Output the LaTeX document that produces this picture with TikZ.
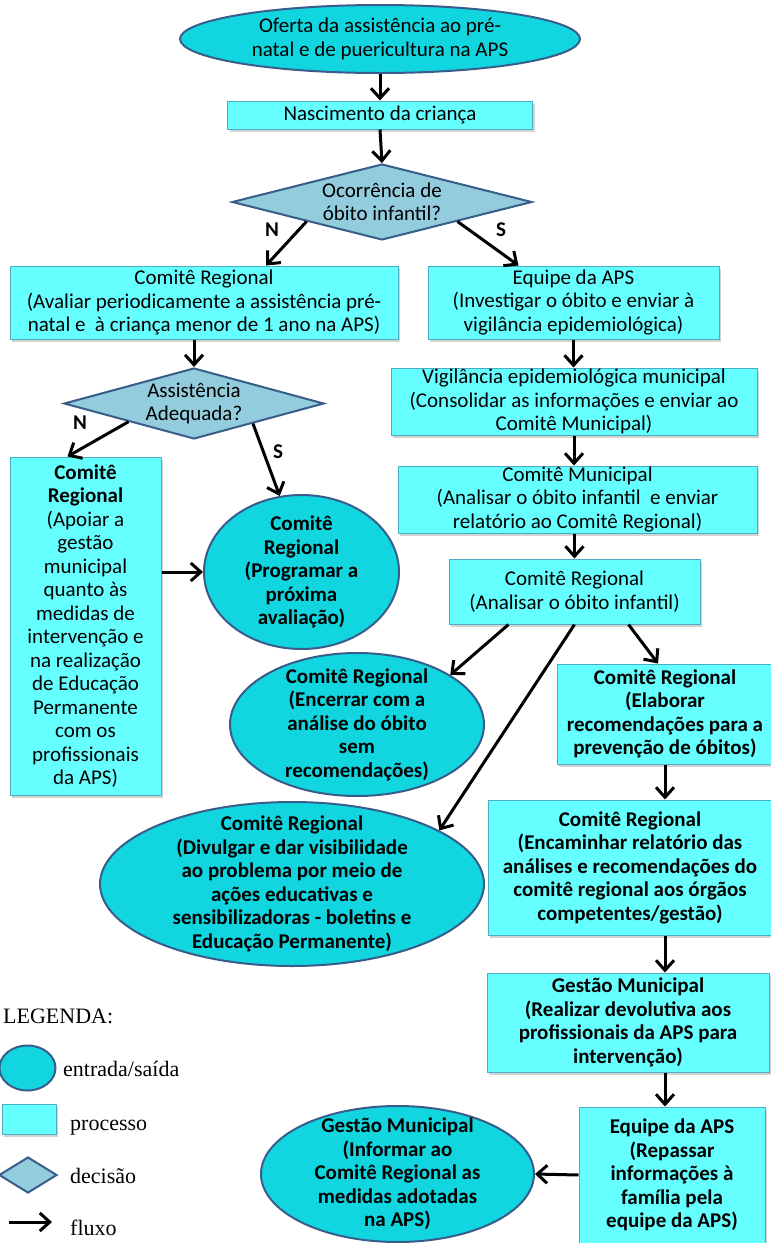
\documentclass[tikz,border=0pt]{standalone}
\usepackage{fontspec}
\setmainfont{Carlito}
\newfontfamily\legfont{Liberation Serif}
\usetikzlibrary{shapes, calc, arrows.meta, positioning, shadows}
\definecolor{iofill}{RGB}{17,214,224}
\definecolor{procfill}{RGB}{102,255,255}
\definecolor{decfill}{RGB}{147,205,221}
\definecolor{darkedge}{RGB}{56,93,138}
\definecolor{boxedge}{RGB}{75,172,198}

\begin{document}
\begin{tikzpicture}[x=1pt, y=-1pt, font=\fontsize{21}{23.5}\selectfont,
    proc/.style={rectangle, draw=boxedge, line width=1pt, fill=procfill, align=center, inner sep=0pt,
        drop shadow={shadow xshift=2pt, shadow yshift=-3pt, opacity=0.35}},
    io/.style={ellipse, draw=darkedge, line width=2pt, fill=iofill, align=center, inner xsep=-20pt, inner ysep=-25pt,
        font=\fontsize{21}{23.5}\selectfont\bfseries},
    dec/.style={diamond, draw=darkedge, line width=2pt, fill=decfill, align=center, inner sep=0pt, aspect=3.8},
    flow/.style={line width=3pt, -{Straight Barb[length=10pt, width=18pt]}},
    yn/.style={font=\fontsize{21}{23.5}\selectfont\bfseries},
    legtext/.style={anchor=base west, inner sep=0pt, font=\legfont\fontsize{22}{24}\selectfont}]
    \useasboundingbox (0,0) rectangle (771,1243);

    % main column
    \node[io, minimum width=400pt, minimum height=68pt, font=\fontsize{21}{23.5}\selectfont] (oferta) at (380,39)
        {Oferta da assistência ao pré-\\natal e de puericultura na APS};
    \node[proc, minimum width=305pt, minimum height=28pt] (nasc) at (380,115) {Nascimento da criança};
    \node[dec, minimum width=300pt, minimum height=76pt] (ocorr) at (382,202) {Ocorrência de\\óbito infantil?};

    \node[proc, minimum width=388pt, minimum height=73pt] (regA) at (204,302.5)
        {Comitê Regional\\(Avaliar periodicamente a assistência pré-\\natal e \ à criança menor de 1 ano na APS)};
    \node[proc, minimum width=291pt, minimum height=73pt] (equipe) at (573.5,302.5)
        {Equipe da APS\\(Investigar o óbito e enviar à\\vigilância epidemiológica)};

    \node[dec, minimum width=260pt, minimum height=71pt] (assist) at (194,403.5) {Assistência\\Adequada?};
    \node[proc, minimum width=151pt, minimum height=338pt] (apoio) at (85.5,626)
        {\textbf{Comitê}\\\textbf{Regional}\\(Apoiar a\\gestão\\municipal\\quanto às\\medidas de\\intervenção e\\na realização\\de Educação\\Permanente\\com os\\profissionais\\da APS)};
    \node[io, minimum width=195pt, minimum height=154pt] (prog) at (301.5,572)
        {Comitê\\Regional\\(Programar a\\próxima\\avaliação)};

    \node[proc, minimum width=366pt, minimum height=67pt] (vig) at (574,401.5)
        {Vigilância epidemiológica municipal\\(Consolidar as informações e enviar ao\\Comitê Municipal)};
    \node[proc, minimum width=359pt, minimum height=67pt] (mun) at (577.5,499.5)
        {Comitê Municipal\\(Analisar o óbito infantil \ e enviar\\relatório ao Comitê Regional)};
    \node[proc, minimum width=251pt, minimum height=65pt] (anaR) at (574.5,591.5)
        {Comitê Regional\\(Analisar o óbito infantil)};

    \node[io, minimum width=254pt, minimum height=143pt] (encer) at (357,724.5)
        {Comitê Regional\\(Encerrar com a\\análise do óbito\\sem\\recomendações)};
    \node[io, minimum width=384pt, minimum height=164pt] (divul) at (292,884)
        {Comitê Regional\\(Divulgar e dar visibilidade\\ao problema por meio de\\ações educativas e\\sensibilizadoras - boletins e\\Educação Permanente)};

    \node[proc, font=\fontsize{21}{23.5}\selectfont\bfseries, minimum width=216pt, minimum height=100pt] (elab) at (665,714)
        {Comitê Regional\\(Elaborar\\recomendações para a\\prevenção de óbitos)};
    \node[proc, font=\fontsize{21}{23.5}\selectfont\bfseries, minimum width=284pt, minimum height=135pt] (enc) at (630,867.5)
        {Comitê Regional\\(Encaminhar relatório das\\análises e recomendações do\\comitê regional aos órgãos\\competentes/gestão)};
    \node[proc, font=\fontsize{21}{23.5}\selectfont\bfseries, minimum width=282pt, minimum height=99pt] (gest) at (628,1022.5)
        {Gestão Municipal\\(Realizar devolutiva aos\\profissionais da APS para\\intervenção)};
    \node[proc, font=\fontsize{21}{23.5}\selectfont\bfseries, minimum width=186pt, minimum height=136pt] (repas) at (672,1175)
        {Equipe da APS\\(Repassar\\informações à\\família pela\\equipe da APS)};
    \node[io, minimum width=273pt, minimum height=136pt] (infor) at (397.5,1174)
        {Gestão Municipal\\(Informar ao\\Comitê Regional as\\medidas adotadas\\na APS)};

    % connectors
    \draw[flow] (oferta.south) -- (nasc.north);
    \draw[flow] (nasc.south) -- (ocorr.north);
    \draw[flow] (ocorr.south west) -- ($(regA.north)+(62,0)$);
    \draw[flow] (ocorr.south east) -- ($(equipe.north)+(-55,0)$);
    \node[yn] (n1) at (272,230) {N};
    \node[yn] (s1) at (501,230) {S};

    \draw[flow] (assist.north |- regA.south) -- (assist.north);
    \draw[flow] (assist.south west) -- ($(apoio.north)+(-18,0)$);
    \draw[flow] ($(assist.south)!0.45!(assist.east)$) -- (prog.106);
    \node[yn] (n2) at (80,423) {N};
    \node[yn] (s2) at (278,452) {S};
    \draw[flow] (apoio.east |- prog.west) -- (prog.west);

    \draw[flow] (equipe.south) -- (equipe.south |- vig.north);
    \draw[flow] (vig.south) -- (vig.south |- mun.north);
    \draw[flow] (anaR.north |- mun.south) -- (anaR.north);

    \draw[flow] ($(anaR.south)+(-66,0)$) -- (encer.28);
    \draw[flow] (anaR.south) -- (divul.20);
    \draw[flow] ($(anaR.south)+(54,0)$) -- ($(elab.north)+(-7,0)$);

    \draw[flow] (elab.south) -- (elab.south |- enc.north);
    \draw[flow] (elab.south |- enc.south) -- (elab.south |- gest.north);
    \draw[flow] (elab.south |- gest.south) -- (elab.south |- repas.north);
    \draw[flow] (repas.west) -- (infor.east);

    % legend
    \node[legtext] (leg) at (3,1023) {LEGENDA:};
    \node[io, minimum width=56pt, minimum height=45pt] (legE) at (27.5,1068) {};
    \node[legtext] (legEt) at (63,1076) {entrada/saída};
    \node[proc, minimum width=54pt, minimum height=30pt] (legR) at (29,1119) {};
    \node[legtext] (legRt) at (70,1130) {processo};
    \node[dec, minimum width=58pt, minimum height=36pt] (legD) at (28,1175) {};
    \node[legtext] (legDt) at (70,1183) {decisão};
    \coordinate (legA) at (9,1222);
    \coordinate (legB) at (52,1222);
    \draw[flow] (legA) -- (legB);
    \node[legtext] (legFt) at (70,1235) {fluxo};
\end{tikzpicture}
\end{document}
